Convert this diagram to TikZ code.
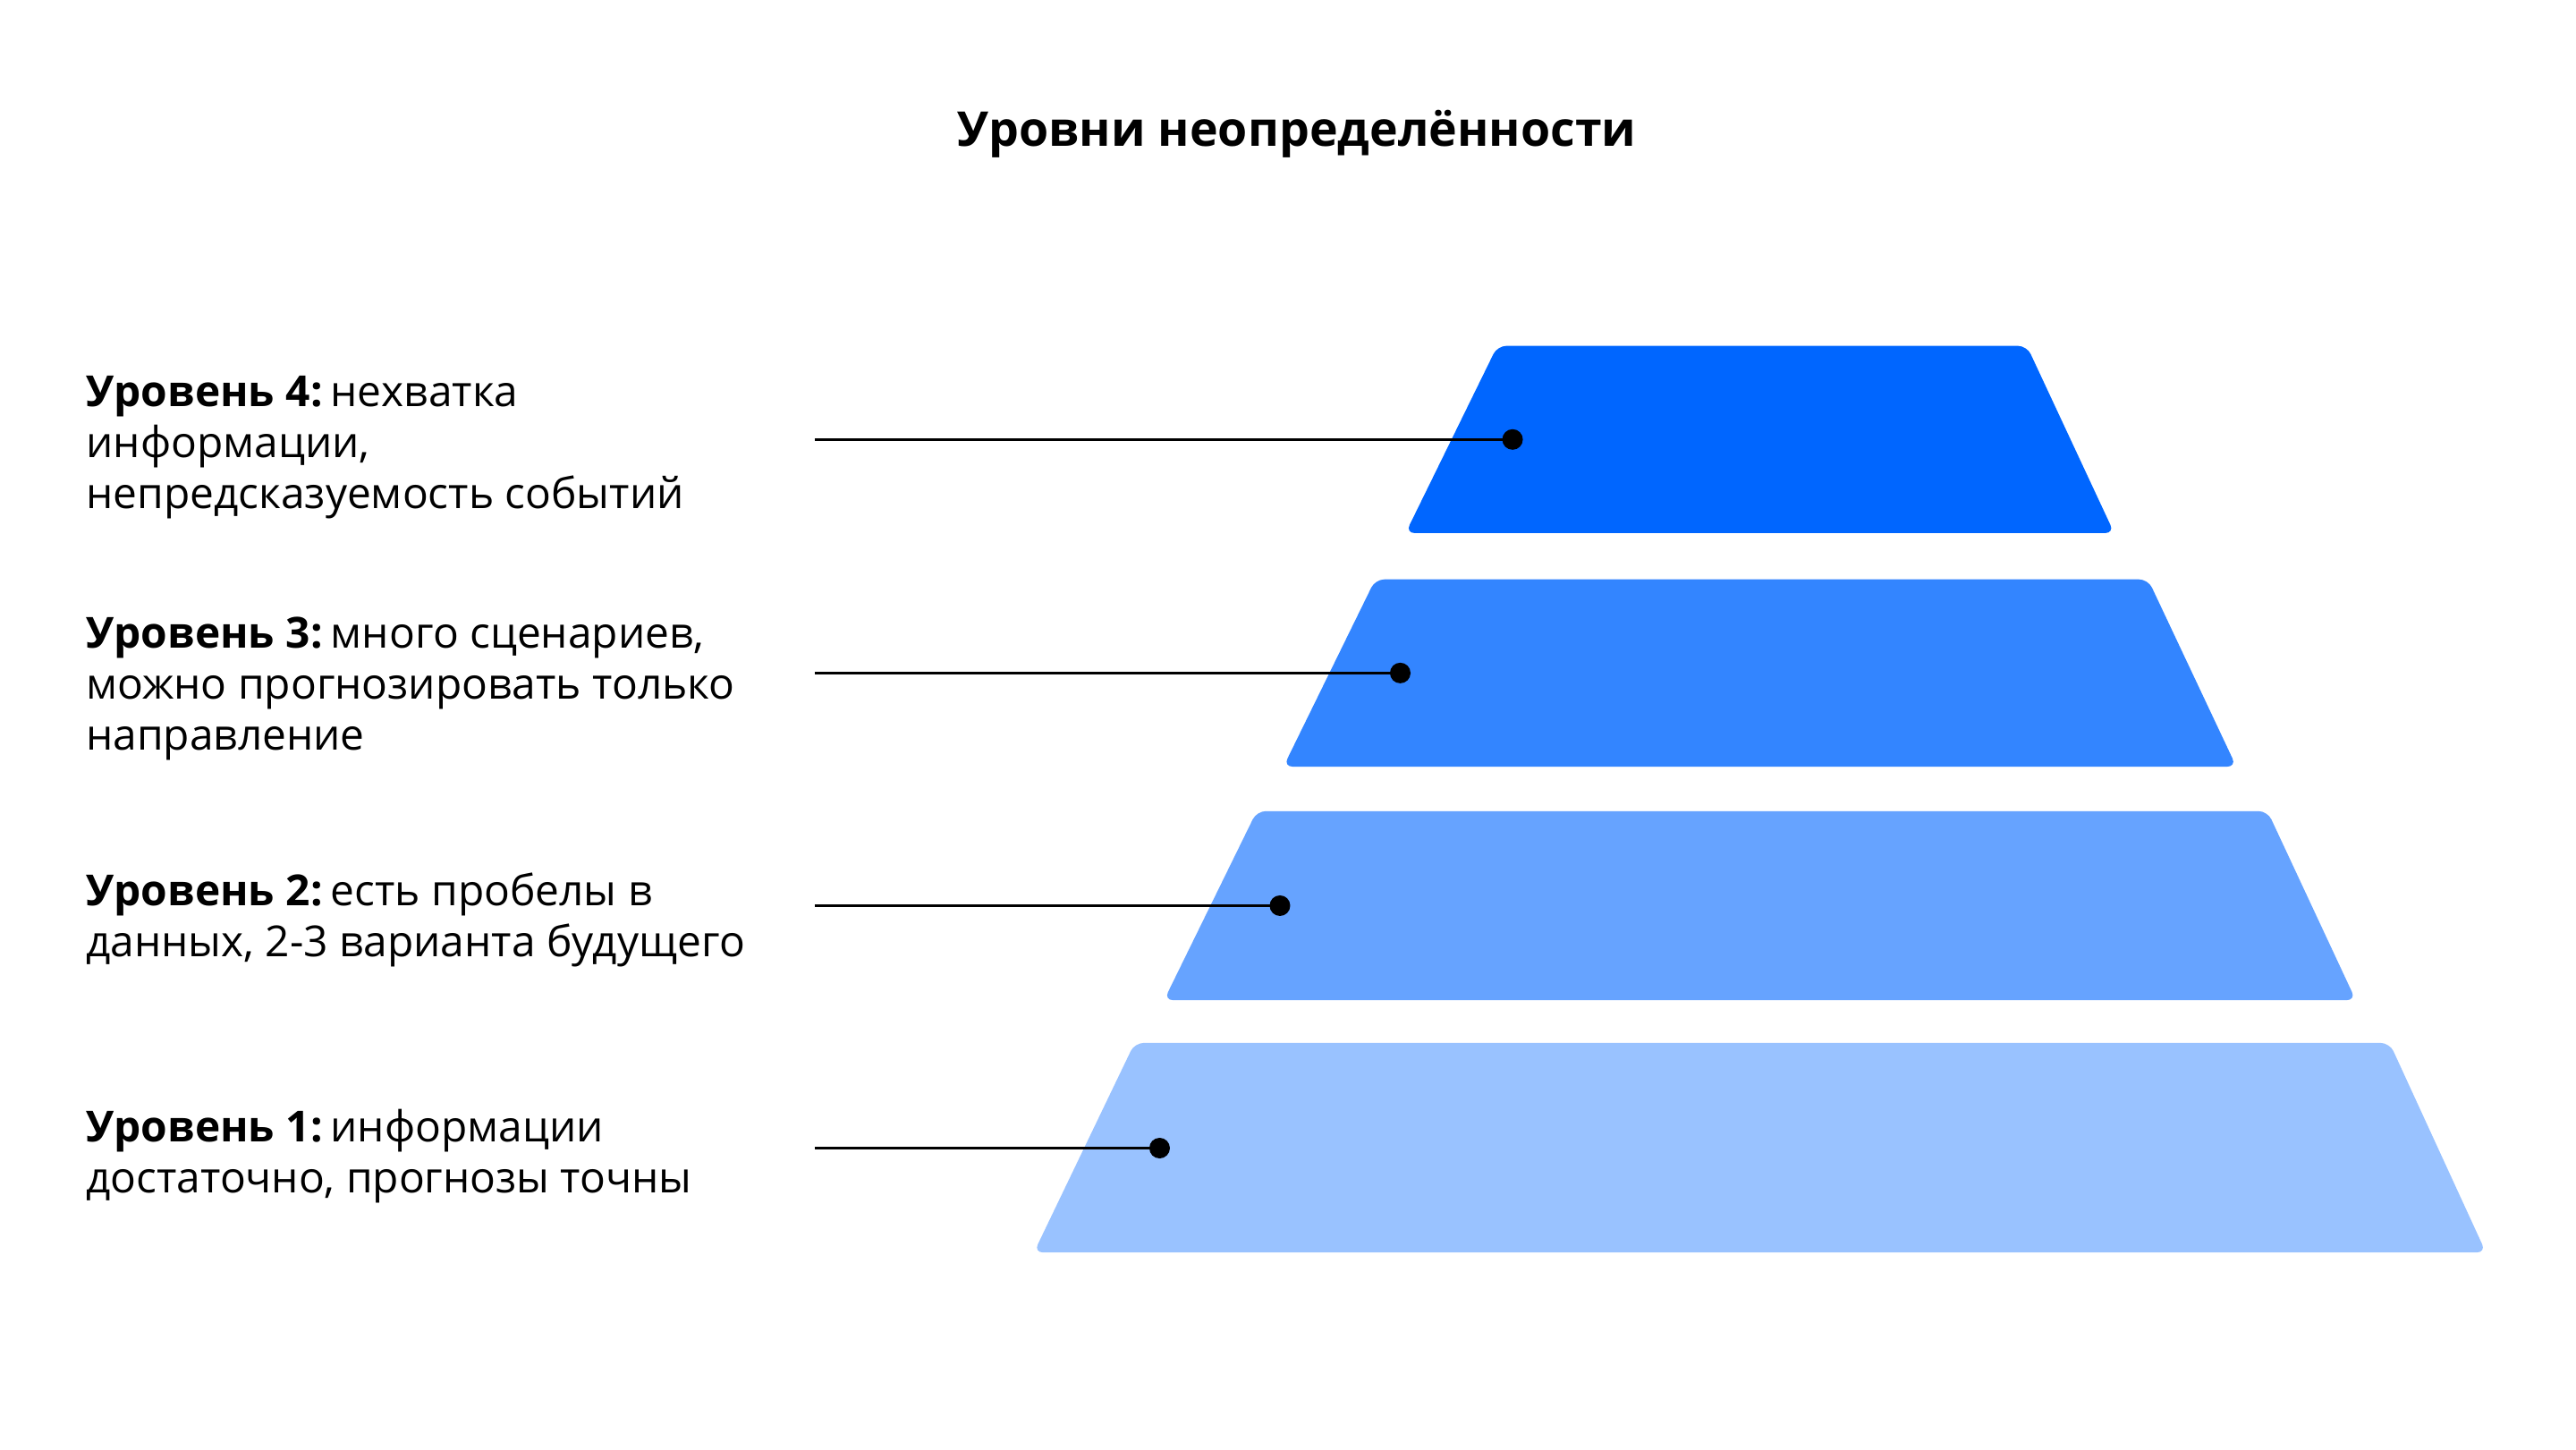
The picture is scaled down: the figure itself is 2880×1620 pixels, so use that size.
\documentclass[tikz,border=0pt]{standalone}
\usepackage{fontspec}
\setmainfont{Open Sans}
\definecolor{basebl}{HTML}{0066FF}
\colorlet{lvfour}{basebl}
\colorlet{lvthree}{basebl!80!white}
\colorlet{lvtwo}{basebl!60!white}
\colorlet{lvone}{basebl!40!white}
\newcommand{\bodyfont}{\fontsize{13.6pt}{16.16pt}\selectfont}
\newcommand{\lvtext}[1]{\parbox[t]{12cm}{\raggedright\bodyfont #1}}
\newcommand{\lvhead}[1]{\textbf{#1}\hspace{0.09cm}}
\begin{document}
\begin{tikzpicture}[x=0.01cm,y=-0.01cm,
  layer/.style={rounded corners=0.1cm},
  dotnode/.style={circle,fill=black,inner sep=0pt,minimum size=0.23cm},
  conn/.style={line width=0.035cm,black},
  label/.style={anchor=base west,inner sep=0pt}]
\useasboundingbox (0,0) rectangle (2880,1620);
\fill[white] (0,0) rectangle (2880,1620);
\begin{scope}[scale=0.9965]
% title
\node[anchor=base,inner sep=0pt] (title) at (1455,164) {\fontsize{15.25pt}{18pt}\selectfont\bfseries Уровни неопределённости};
% pyramid layers
\fill[lvfour,layer]  (1680,388) -- (2274,388) -- (2372,598) -- (1577,598) -- cycle;
\fill[lvthree,layer] (1543,650) -- (2410,650) -- (2509,860) -- (1440,860) -- cycle;
\fill[lvtwo,layer]   (1410,910) -- (2544,910) -- (2643,1122) -- (1306,1122) -- cycle;
\fill[lvone,layer]   (1273,1170) -- (2681,1170) -- (2789,1405) -- (1160,1405) -- cycle;
% labels
\node[label] (t4) at (96,456) {\lvtext{\lvhead{Уровень 4:}нехватка\\информации,\\непредсказуемость событий}};
\node[label] (t3) at (96,727) {\lvtext{\lvhead{Уровень 3:}много сценариев,\\можно прогнозировать только\\направление}};
\node[label] (t2) at (96,1016) {\lvtext{\lvhead{Уровень 2:}есть пробелы в\\данных, 2-3 варианта будущего}};
\node[label] (t1) at (96,1281) {\lvtext{\lvhead{Уровень 1:}информации\\достаточно, прогнозы точны}};
% connectors
\coordinate (s4) at (914,493);
\coordinate (s3) at (914,755);
\coordinate (s2) at (914,1016);
\coordinate (s1) at (914,1288);
\node[dotnode] (d4) at (1697,493) {};
\node[dotnode] (d3) at (1571,755) {};
\node[dotnode] (d2) at (1436,1016) {};
\node[dotnode] (d1) at (1301,1288) {};
\draw[conn] (s4) -- (d4.center);
\draw[conn] (s3) -- (d3.center);
\draw[conn] (s2) -- (d2.center);
\draw[conn] (s1) -- (d1.center);
\end{scope}
\end{tikzpicture}
\end{document}
